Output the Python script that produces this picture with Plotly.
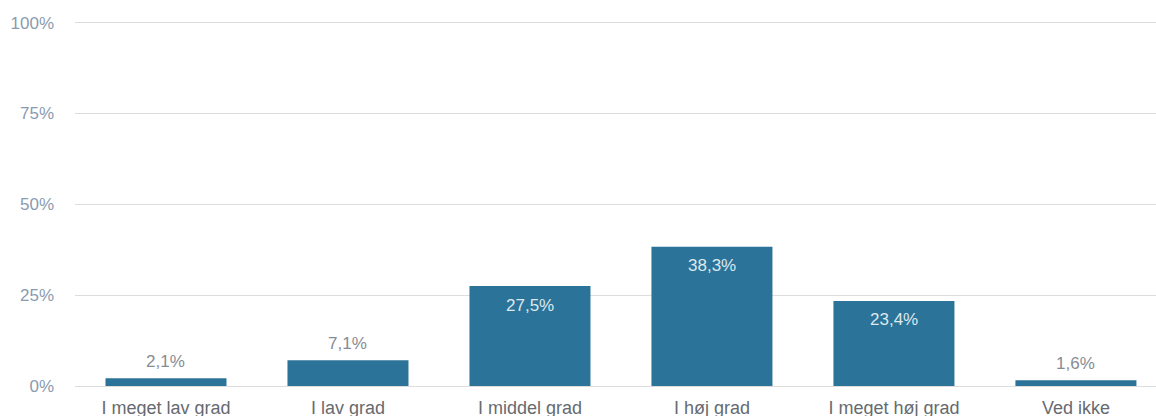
import plotly.graph_objects as go

categories = ["I meget lav grad", "I lav grad", "I middel grad", "I høj grad", "I meget høj grad", "Ved ikke"]
values = [2.1, 7.1, 27.5, 38.3, 23.4, 1.6]
labels = ["2,1%", "7,1%", "27,5%", "38,3%", "23,4%", "1,6%"]
tick_vals = [0, 25, 50, 75, 100]
tick_text = ["0%", "25%", "50%", "75%", "100%"]

BAR = "#2b7399"
FONT = "Liberation Sans, Arial, sans-serif"

fig = go.Figure()
fig.add_trace(go.Bar(x=categories, y=values, marker=dict(color=BAR, line=dict(width=0)),
                     width=0.665, hoverinfo="skip"))

annotations = []
for c, v, t in zip(categories, values, labels):
    inside = v > 15
    annotations.append(dict(
        x=c, y=v, text=t, showarrow=False, xref="x", yref="y",
        yshift=-19 if inside else 17,
        font=dict(family=FONT, size=17, color="#dde8ef" if inside else "#878c94"),
    ))

fig.update_layout(
    width=1156, height=416,
    margin=dict(l=75, r=0, t=19, b=30),
    paper_bgcolor="white", plot_bgcolor="white",
    showlegend=False,
    annotations=annotations,
    font=dict(family=FONT),
    xaxis=dict(
        range=[-0.5, 5.44], showgrid=False, zeroline=False, showline=False,
        tickfont=dict(family=FONT, size=18, color="#666a70"),
        ticks="", ticklabelstandoff=9, fixedrange=True, automargin=False,
    ),
    yaxis=dict(
        range=[0, 101], tickvals=tick_vals, ticktext=tick_text,
        showgrid=True, gridcolor="#dddddd", gridwidth=1,
        zeroline=True, zerolinecolor="#dddddd", zerolinewidth=1,
        showline=False, ticks="",
        tickfont=dict(family=FONT, size=17, color="#8a9bb0"),
        ticklabelstandoff=20, fixedrange=True, automargin=False,
    ),
)

fig.write_html("out.html", config={"displayModeBar": False},
               post_script="document.body.style.margin='0';document.body.style.overflow='hidden';")
